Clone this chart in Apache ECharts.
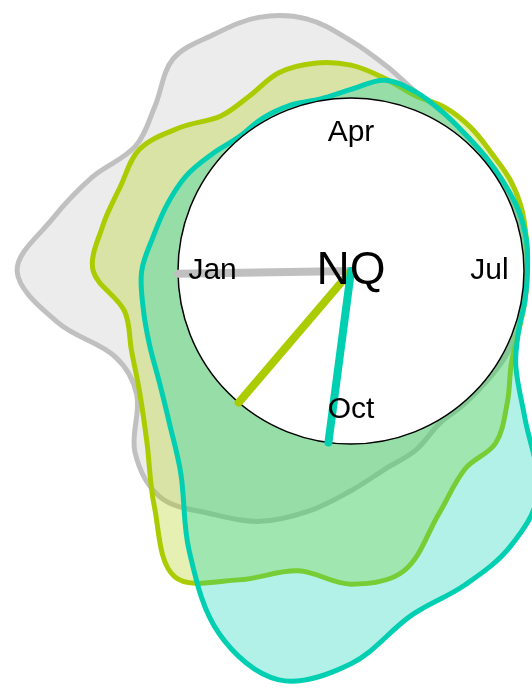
<!DOCTYPE html>
<html>
<head>
<meta charset="utf-8">
<script src="https://cdn.jsdelivr.net/npm/echarts@6/dist/echarts.min.js"></script>
<style>
html,body{margin:0;padding:0;background:#ffffff;}
#main{width:532px;height:691px;}
</style>
</head>
<body>
<div id="main"></div>
<script>
// Radius samples every 1/3 month (10 degrees), starting at Jan; dial radius = 100
const monthStep = 1 / 3;
const grayRadius = [193,175,159,144,148,160,158,156,148,133,120,110,106,103,102,102,102,102,102,102,102,102,101,101,102,110,116,127,141,154,162,171,163,143,145,172];
const yellowRadius = [149,146,142,141,129,117,117,122,122,119,113,108,109,108,106,106,105,103,102,102,103,107,118,130,132,149,176,181,176,190,204,177,154,141,135,133];
const tealRadius = [121,116,113,110,105,101,102,102,101,105,112,110,106,103,102,102,103,103,102,102,103,110,131,168,184,193,202,227,240,223,187,153,137,128,124,122];

const handMonths = [11.97, 10.35, 9.25];
const handLengths = [100, 100, 100];

const tickMonths = [0, 3, 6, 9];
const tickLabels = ['Jan', 'Apr', 'Jul', 'Oct'];
const centerLabel = 'NQ';
const dialRadius = 100;
const labelRadius = 80;

const strokeColors = ['#c0c0c0', '#aacc00', '#00cfb1'];
const fillColors = ['rgba(192,192,192,0.3)', 'rgba(170,204,0,0.3)', 'rgba(0,207,177,0.3)'];
const FONT = 'Liberation Sans, Arial, Helvetica, sans-serif';

function blobSeries(values, idx) {
  const data = values.map((r, i) => [r, i * monthStep]);
  return {
    type: 'custom',
    coordinateSystem: 'polar',
    silent: true,
    data: data,
    renderItem: function (params, api) {
      if (params.dataIndex !== 0) return null;
      const pts = data.map(d => api.coord(d));
      return {
        type: 'polygon',
        shape: { points: pts, smooth: 0.35 },
        style: { fill: fillColors[idx], stroke: strokeColors[idx], lineWidth: 5 }
      };
    }
  };
}

const chart = echarts.init(document.getElementById('main'), null, { renderer: 'canvas' });
chart.setOption({
  animation: false,
  backgroundColor: '#ffffff',
  polar: { center: [351, 271], radius: 173 },
  angleAxis: { type: 'value', min: 0, max: 12, startAngle: 180, clockwise: true, show: false },
  radiusAxis: { type: 'value', min: 0, max: dialRadius, show: false },
  series: [
    blobSeries(grayRadius, 0),
    blobSeries(yellowRadius, 1),
    blobSeries(tealRadius, 2),
    {
      type: 'custom', coordinateSystem: 'polar', silent: true,
      data: [[dialRadius, 0]],
      renderItem: function (params, api) {
        const c = api.coord([0, 0]);
        const e = api.coord([api.value(0), api.value(1)]);
        const r = Math.hypot(e[0] - c[0], e[1] - c[1]);
        return { type: 'circle', shape: { cx: c[0], cy: c[1], r: r },
                 style: { fill: '#ffffff', stroke: '#000000', lineWidth: 1.5 } };
      }
    },
    {
      type: 'custom', coordinateSystem: 'polar', silent: true,
      data: handMonths.map((m, i) => [handLengths[i], m]),
      renderItem: function (params, api) {
        const m = api.value(1);
        const p0 = api.coord([0, m]);
        const p1 = api.coord([api.value(0), m]);
        return { type: 'line', shape: { x1: p0[0], y1: p0[1], x2: p1[0], y2: p1[1] },
                 style: { stroke: strokeColors[params.dataIndex], lineWidth: 8, lineCap: 'round' } };
      }
    },
    {
      type: 'custom', coordinateSystem: 'polar', silent: true,
      data: tickMonths.map(m => [labelRadius, m]),
      renderItem: function (params, api) {
        const p = api.coord([api.value(0), api.value(1)]);
        return { type: 'text', x: p[0], y: p[1],
                 style: { text: tickLabels[params.dataIndex], fontSize: 30, fontFamily: FONT,
                          fill: '#000000', align: 'center', verticalAlign: 'middle' } };
      }
    },
    {
      type: 'custom', coordinateSystem: 'polar', silent: true,
      data: [[0, 0]],
      renderItem: function (params, api) {
        const p = api.coord([0, 0]);
        return { type: 'text', x: p[0], y: p[1],
                 style: { text: centerLabel, fontSize: 46, fontFamily: FONT,
                          fill: '#000000', align: 'center', verticalAlign: 'middle' } };
      }
    }
  ]
});
</script>
</body>
</html>
